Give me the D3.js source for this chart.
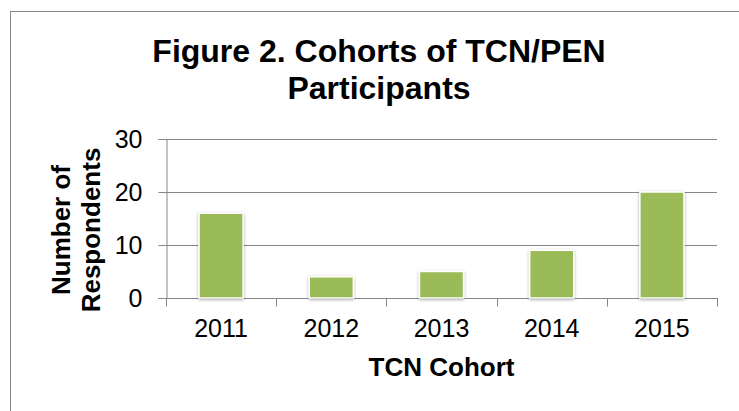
<!DOCTYPE html>
<html>
<head>
<meta charset="utf-8">
<script src="https://cdn.jsdelivr.net/npm/d3@7"></script>
<style>
  html, body { margin: 0; padding: 0; background: #fff; }
  svg { display: block; font-family: "Liberation Sans", Arial, sans-serif; }
</style>
</head>
<body>
<svg id="chart" width="739" height="411"></svg>
<script>
const categories = ["2011", "2012", "2013", "2014", "2015"];
const respondents = [16, 4, 5, 9, 20];
const yTicks = [0, 10, 20, 30];
const titleLines = ["Figure 2. Cohorts of TCN/PEN", "Participants"];
const yTitleLines = ["Number of", "Respondents"];
const xTitle = "TCN Cohort";

const svg = d3.select("#chart");
const plot = { left: 166, right: 717, top: 139, bottom: 298 };

// outer frame
svg.append("rect")
  .attr("x", 10.5).attr("y", 11.5)
  .attr("width", 800).attr("height", 500)
  .attr("fill", "none").attr("stroke", "#878787").attr("stroke-width", 1);

const defs = svg.append("defs");
const f = defs.append("filter").attr("id", "shadow")
  .attr("x", "-30%").attr("y", "-30%").attr("width", "160%").attr("height", "160%");
f.append("feDropShadow").attr("dx", 0).attr("dy", 1)
  .attr("stdDeviation", 1.8).attr("flood-color", "#000").attr("flood-opacity", 0.35);

const x = d3.scaleBand().domain(categories)
  .range([plot.left, plot.right]).paddingInner(0.6).paddingOuter(0.3);
const y = d3.scaleLinear().domain([0, 30]).range([plot.bottom, plot.top]);

// gridlines
svg.append("g").selectAll("line").data(yTicks.filter(d => d > 0)).join("line")
  .attr("x1", plot.left).attr("x2", plot.right)
  .attr("y1", d => Math.round(y(d)) + 0.5).attr("y2", d => Math.round(y(d)) + 0.5)
  .attr("stroke", "#868686").attr("stroke-width", 1);

// y axis
const yAxis = svg.append("g")
  .attr("transform", `translate(${plot.left + 0.5},0)`)
  .call(d3.axisLeft(y).tickValues(yTicks).tickSize(8).tickPadding(16));
yAxis.select(".domain").attr("stroke", "#868686");
yAxis.selectAll(".tick line").attr("stroke", "#868686");
yAxis.selectAll(".tick text")
  .attr("font-size", "25px").attr("fill", "#000")
  .attr("font-family", "Liberation Sans, Arial, sans-serif");

// x axis baseline and boundary ticks
const boundaries = categories.map(c => x(c) - x.step() * x.paddingInner() / 2);
boundaries.push(plot.right);
const xg = svg.append("g");
xg.append("line")
  .attr("x1", plot.left).attr("x2", plot.right)
  .attr("y1", Math.round(y(0)) + 0.5).attr("y2", Math.round(y(0)) + 0.5)
  .attr("stroke", "#868686");
xg.selectAll("line.tk").data(boundaries).join("line").attr("class", "tk")
  .attr("x1", d => Math.round(d) + 0.5).attr("x2", d => Math.round(d) + 0.5)
  .attr("y1", Math.round(y(0))).attr("y2", Math.round(y(0)) + 8.5)
  .attr("stroke", "#868686");

// bars
svg.append("g").selectAll("rect").data(categories).join("rect")
  .attr("x", d => x(d))
  .attr("y", (d, i) => y(respondents[i]))
  .attr("width", x.bandwidth())
  .attr("height", (d, i) => y(0) - y(respondents[i]))
  .attr("fill", "#9BBB59")
  .attr("stroke", "#ffffff").attr("stroke-width", 1.5)
  .attr("filter", "url(#shadow)");

// x labels
svg.append("g").selectAll("text").data(categories).join("text")
  .attr("x", d => x(d) + x.bandwidth() / 2)
  .attr("y", 337)
  .attr("text-anchor", "middle")
  .attr("font-size", "25px").attr("fill", "#000")
  .text(d => d);

// title
svg.append("g").selectAll("text").data(titleLines).join("text")
  .attr("x", 379).attr("y", (d, i) => 61.5 + i * 37)
  .attr("text-anchor", "middle")
  .attr("font-size", "32px").attr("font-weight", "bold").attr("fill", "#000")
  .text(d => d);

// x title
svg.append("text")
  .attr("x", (plot.left + plot.right) / 2).attr("y", 376)
  .attr("text-anchor", "middle")
  .attr("font-size", "26px").attr("font-weight", "bold").attr("fill", "#000")
  .text(xTitle);

// y title
svg.append("g").selectAll("text").data(yTitleLines).join("text")
  .attr("transform", (d, i) => `translate(${70 + i * 30},230) rotate(-90)`)
  .attr("text-anchor", "middle")
  .attr("font-size", "26px").attr("font-weight", "bold").attr("fill", "#000")
  .text(d => d);
</script>
</body>
</html>
